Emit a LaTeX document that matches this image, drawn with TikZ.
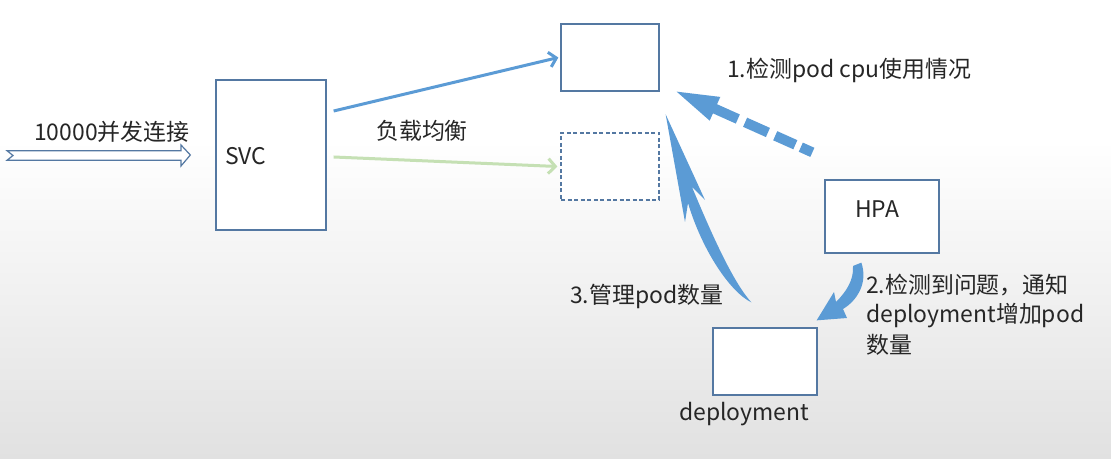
\documentclass[tikz,border=0pt]{standalone}
\usepackage{fontspec}
\setmainfont{Noto Sans CJK SC}
\usetikzlibrary{arrows.meta,calc}
\definecolor{abl}{RGB}{91,155,213}
\definecolor{bx}{RGB}{84,120,162}
\definecolor{agr}{RGB}{197,224,180}
\definecolor{tx}{RGB}{38,38,38}
\definecolor{bgg}{RGB}{225,225,225}
\begin{document}
\begin{tikzpicture}[x=1bp,y=-1bp,
  box/.style={draw=bx, line width=1.3bp, fill=white, inner sep=0pt},
  lbl/.style={anchor=west, inner sep=0pt, text=tx, font=\fontsize{23}{28}\selectfont},
  thinarrow/.style={line width=3bp, -{Straight Barb[length=7bp,width=15bp,line width=3bp]}}]
\fill[white] (0,0) rectangle (1111,459);
\shade[top color=white, bottom color=bgg] (0,140) rectangle (1111,459);
\useasboundingbox (0,0) rectangle (1111,459);

% boxes
\node[box, minimum width=110bp, minimum height=150bp] (svc) at (271,155) {};
\node[box, minimum width=98bp, minimum height=67bp] (pod1) at (610,57.5) {};
\node[box, minimum width=98bp, minimum height=67bp, dash pattern=on 4bp off 2.5bp] (pod2) at (610,166.5) {};
\node[box, minimum width=114bp, minimum height=73bp] (hpa) at (882,216.5) {};
\node[box, minimum width=104bp, minimum height=67bp] (dep) at (765,361.5) {};

% labels
\node[lbl] (svct) at (225,156) {SVC};
\node[lbl] (hpat) at (855,209) {HPA};
\node[lbl] (inl) at (34,132) {10000并发连接};
\node[lbl] (lb) at (376,131) {负载均衡};
\node[lbl] (l1) at (727,70) {1.检测pod cpu使用情况};
\node[lbl] (l2a) at (866,285) {2.检测到问题，通知};
\node[lbl] (l2b) at (866,316) {deployment增加pod};
\node[lbl] (l2c) at (866,345) {数量};
\node[lbl] (l3) at (570,296) {3.管理pod数量};
\node[lbl] (depl) at (679,414) {deployment};

% incoming hollow arrow
\coordinate (in0) at (7,155.5);
\coordinate (intip) at ([xshift=-25bp]svc.west);
\draw[bx, line width=1.2bp, fill=white] (in0) ++(0,-4.8) -- (181,150.7) -- (181,145) -- (intip) -- (181,166) -- (181,160.3) -- (7,160.3) -- (13,155.5) -- cycle;

% svc -> pods
\draw[abl, thinarrow] ([shift={(7,-44)}]svc.east) -- ([xshift=-2bp]pod1.west);
\draw[agr, thinarrow] ([shift={(7,2)}]svc.east) -- ([xshift=-3bp]pod2.west);

% 1: dashed thick arrow HPA -> pod1
\coordinate (a1t) at ([shift={(17,0)}]pod1.south east);
\coordinate (a1s) at ([shift={(-12,-27)}]hpa.north west);
\coordinate (a1b) at ($(a1t)!42bp!(a1s)$);
\draw[abl, line width=10bp, dash pattern=on 27bp off 8bp on 25bp off 8bp on 22bp off 6bp on 30bp off 10bp]
  ($(a1t)!40bp!(a1s)$) -- (a1s);
\fill[abl] (a1t) -- ($(a1b)!13bp!90:(a1s)$) -- ($(a1b)!13bp!-90:(a1s)$) -- cycle;

% 2: curved arrow HPA -> deployment
\coordinate (a2s) at ([shift={(37,9)}]hpa.south west);
\coordinate (a2t) at ([shift={(-1,-7)}]dep.north east);
\fill[abl] (a2t) -- (834,292) -- (836,302) .. controls (846,292) and (854,280) .. (853,266)
  -- (a2s) .. controls (868,282) and (858,300) .. (843,309) -- (847,318) -- cycle;

% 3: curved arrow deployment -> pod2
\coordinate (a3s) at ([shift={(39,-25)}]dep.north west);
\coordinate (a3t) at ([shift={(6,-18)}]pod2.north east);
\fill[abl] (a3t) -- (705,200) -- (692,187) .. controls (712,235) and (733,282) .. (a3s)
  .. controls (730,292) and (702,250) .. (688,203) -- (685,222) -- cycle;
\end{tikzpicture}
\end{document}
